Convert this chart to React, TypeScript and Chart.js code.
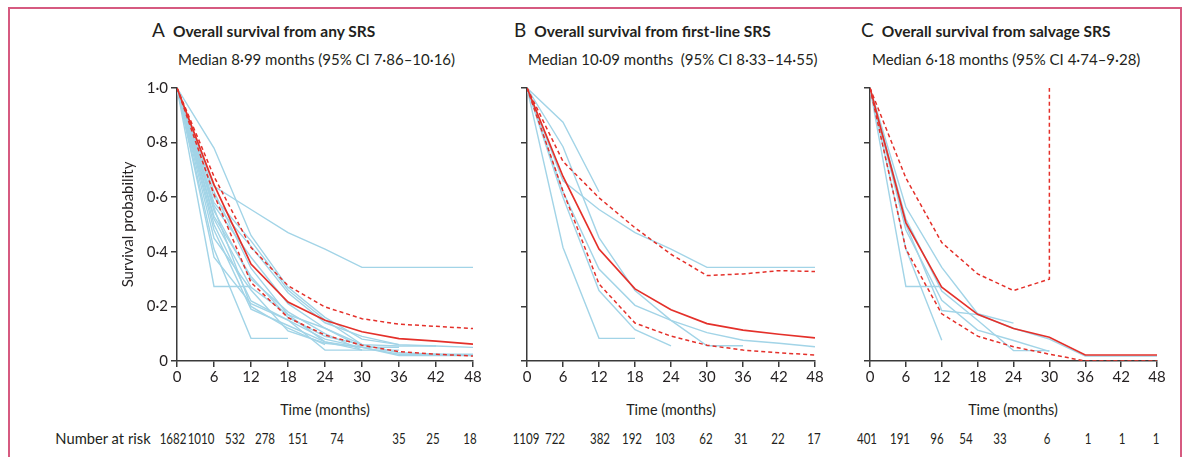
import React, { useEffect, useRef } from 'react';
import { Chart, registerables } from 'chart.js';
Chart.register(...registerables);

const FONT = 'Lato, "Noto Sans", sans-serif';
const TEXT = '#231f20';
const RED = '#e4302a';
const BLUE = '#a2d4e7';
const AXIS = '#3a3a3a';

// time points (months)
const months = [0, 6, 12, 18, 24, 30, 36, 42, 48];
const yTickLabels = ['0', '0·2', '0·4', '0·6', '0·8', '1·0'];

// Panel A – any SRS
const aMedian = [1, 0.646, 0.355, 0.216, 0.149, 0.107, 0.082, 0.073, 0.062];
const aUpper = [1, 0.676, 0.416, 0.276, 0.198, 0.155, 0.135, 0.127, 0.119];
const aLower = [1, 0.61, 0.288, 0.159, 0.095, 0.058, 0.034, 0.025, 0.018];
const aSites = [
  [1, 0.64, 0.555, 0.47, 0.41, 0.343, 0.343, 0.343, 0.343],
  [1, 0.78, 0.46, 0.27, 0.16, 0.08, 0.06, 0.055, 0.05],
  [1, 0.273, 0.273],
  [1, 0.41, 0.083, 0.083],
  [1, 0.6, 0.44, 0.26, 0.15, 0.06, 0.055, 0.055],
  [1, 0.57, 0.38, 0.21, 0.12, 0.05, 0.05],
  [1, 0.55, 0.3, 0.18, 0.1, 0.04, 0.04],
  [1, 0.52, 0.27, 0.17, 0.07, 0.04],
  [1, 0.5, 0.22, 0.15, 0.04, 0.04],
  [1, 0.48, 0.19, 0.13, 0.07, 0.05, 0.025, 0.025, 0.025],
  [1, 0.62, 0.34, 0.17, 0.12, 0.06, 0.03, 0.025, 0.02],
  [1, 0.45, 0.26, 0.11, 0.065, 0.05, 0.02, 0.02, 0.02],
  [1, 0.58, 0.42, 0.25, 0.14, 0.09, 0.06],
  [1, 0.53, 0.31, 0.16, 0.09, 0.06],
  [1, 0.56, 0.2, 0.12, 0.06],
  [1, 0.38, 0.21, 0.15, 0.08, 0.05, 0.05],
];
const aAtRisk = ['1682', '1010', '532', '278', '151', '74', '35', '25', '18'];

// Panel B – first-line SRS
const bMedian = [1, 0.676, 0.41, 0.264, 0.188, 0.137, 0.113, 0.098, 0.085];
const bUpper = [1, 0.731, 0.598, 0.488, 0.391, 0.313, 0.319, 0.331, 0.328];
const bLower = [1, 0.622, 0.282, 0.139, 0.091, 0.058, 0.04, 0.03, 0.022];
const bSites = [
  [1, 0.875, 0.62],
  [1, 0.785, 0.452, 0.258, 0.149, 0.056, 0.056],
  [1, 0.66, 0.555, 0.47, 0.41, 0.343, 0.343, 0.343, 0.343],
  [1, 0.416, 0.083, 0.083],
  [1, 0.62, 0.337, 0.204, 0.149, 0.104, 0.076, 0.065, 0.052],
  [1, 0.6, 0.258, 0.115, 0.055],
];
const bAtRisk = ['1109', '722', '382', '192', '103', '62', '31', '22', '17'];

// Panel C – salvage SRS
const cMedian = [1, 0.507, 0.27, 0.171, 0.119, 0.087, 0.022, 0.022, 0.022];
const cUpperTimes = [0, 6, 12, 18, 24, 30, 30];
const cUpper = [1, 0.67, 0.434, 0.319, 0.258, 0.3, 1.0];
const cLower = [1, 0.41, 0.173, 0.091, 0.052, 0.025, 0, 0, 0];
const cSites = [
  [1, 0.564, 0.343, 0.173, 0.139],
  [1, 0.273, 0.273],
  [1, 0.41, 0.076],
  [1, 0.52, 0.256, 0.149, 0.038, 0.038],
  [1, 0.48, 0.222, 0.113, 0.075, 0.035],
  [1, 0.5, 0.185, 0.17, 0.12, 0.08, 0.018, 0.018, 0.018],
];
const cAtRisk = ['401', '191', '96', '54', '33', '6', '1', '1', '1'];

const toPoints = (ys: (number | null)[], ts: number[] = months) =>
  ys.map((y, i) => ({ x: ts[i], y })).filter((p) => p.y !== null && p.y !== undefined);

type PanelProps = {
  left: number;
  axisLeft: number;
  axisRight: number;
  showYLabels: boolean;
  median: number[];
  upper: number[];
  upperTimes?: number[];
  lower: number[];
  sites: number[][];
};

const TOP = 76;
const AREA_TOP = 86;
const AREA_BOTTOM = 361;
const HEIGHT = 320;

function Panel(p: PanelProps) {
  const ref = useRef<HTMLCanvasElement>(null);
  const width = p.axisRight + 17 - p.left;
  useEffect(() => {
    if (!ref.current) return;
    const datasets: any[] = [
      { data: toPoints(p.median), borderColor: RED, borderWidth: 1.7 },
      { data: toPoints(p.upper, p.upperTimes || months), borderColor: RED, borderWidth: 1.5, borderDash: [4, 3] },
      { data: toPoints(p.lower), borderColor: RED, borderWidth: 1.5, borderDash: [4, 3] },
      ...p.sites.map((s) => ({ data: toPoints(s), borderColor: BLUE, borderWidth: 1.4 })),
    ];
    const chart = new Chart(ref.current, {
      type: 'line',
      data: { datasets },
      options: {
        animation: false,
        responsive: false,
        maintainAspectRatio: false,
        parsing: false,
        layout: { padding: { top: AREA_TOP - TOP, right: 17, left: 0, bottom: 0 } },
        elements: { point: { radius: 0 }, line: { tension: 0, fill: false } },
        plugins: { legend: { display: false }, tooltip: { enabled: false }, title: { display: false } },
        scales: {
          x: {
            type: 'linear',
            min: 0,
            max: 48,
            afterFit: (s: any) => { s.height = TOP + HEIGHT - AREA_BOTTOM; },
            ticks: { stepSize: 6, color: TEXT, font: { family: FONT, size: 15 }, padding: 1, maxRotation: 0 },
            grid: { drawOnChartArea: false, drawTicks: true, tickLength: 6, color: AXIS, lineWidth: 1.5 },
            border: { display: true, color: AXIS, width: 1.5 },
          },
          y: {
            type: 'linear',
            min: 0,
            max: 1,
            afterFit: (s: any) => { s.width = p.axisLeft - p.left; },
            ticks: {
              stepSize: 0.2,
              color: TEXT,
              font: { family: FONT, size: 15 },
              padding: 3,
              callback: (v: any) => (p.showYLabels ? yTickLabels[Math.round(Number(v) * 5)] : ''),
            },
            title: {
              display: p.showYLabels,
              text: 'Survival probability',
              color: TEXT,
              font: { family: FONT, size: 15 },
              padding: { top: 19, bottom: 0 },
            },
            grid: { drawOnChartArea: false, drawTicks: true, tickLength: 6, color: AXIS, lineWidth: 1.5 },
            border: { display: true, color: AXIS, width: 1.5 },
          },
        },
      } as any,
    });
    return () => chart.destroy();
  }, []);
  return (
    <canvas
      ref={ref}
      width={width}
      height={HEIGHT}
      style={{ position: 'absolute', left: p.left, top: TOP, width, height: HEIGHT }}
    />
  );
}

const abs = (x: number, y: number, extra: React.CSSProperties = {}): React.CSSProperties => ({
  position: 'absolute',
  left: x,
  top: y,
  whiteSpace: 'nowrap',
  fontFamily: FONT,
  color: TEXT,
  lineHeight: 1,
  ...extra,
});

function Title({ x, y, letter, text }: { x: number; y: number; letter: string; text: string }) {
  return (
    <div style={abs(x, y, { fontSize: 15.5, fontWeight: 700 })}>
      <span style={{ fontSize: 19, fontWeight: 400, marginRight: 8 }}>{letter}</span>
      {text}
    </div>
  );
}

const centered = (cx: number, cy: number, text: string, size = 14, key?: any, sx = 1) => (
  <div key={key} style={abs(cx, cy, { fontSize: size, transform: `translate(-50%, -50%) scaleX(${sx})` })}>
    {text}
  </div>
);

const aRiskX = [173, 201, 235, 265, 298, 337, 399, 433, 470];
const bRiskX = [526, 555, 600, 632, 665, 706, 741, 778, 814];
const cRiskX = [867, 900, 937, 966, 1000, 1047, 1088, 1122, 1156];

export default function App() {
  return (
    <div style={{ position: 'absolute', left: 0, top: 0, width: 1184, height: 457, overflow: 'hidden', background: '#fff' }}>
      <div
        style={{
          position: 'absolute',
          left: 8,
          top: 7,
          width: 1174,
          height: 480,
          boxSizing: 'border-box',
          border: '2px solid #d65a80',
        }}
      />
      <Title x={152} y={20} letter="A" text="Overall survival from any SRS" />
      <Title x={514} y={20} letter="B" text="Overall survival from first-line SRS" />
      <Title x={861} y={20} letter="C" text="Overall survival from salvage SRS" />
      <div style={abs(178, 52, { fontSize: 15 })}>Median 8·99 months (95% CI 7·86–10·16)</div>
      <div style={abs(528, 52, { fontSize: 15 })}>Median 10·09 months&nbsp; (95% CI 8·33–14·55)</div>
      <div style={abs(872, 52, { fontSize: 15 })}>Median 6·18 months (95% CI 4·74–9·28)</div>

      <Panel left={100} axisLeft={177} axisRight={473} showYLabels median={aMedian} upper={aUpper} lower={aLower} sites={aSites} />
      <Panel left={512} axisLeft={527} axisRight={815} showYLabels={false} median={bMedian} upper={bUpper} lower={bLower} sites={bSites} />
      <Panel
        left={855}
        axisLeft={870}
        axisRight={1157}
        showYLabels={false}
        median={cMedian}
        upper={cUpper}
        upperTimes={cUpperTimes}
        lower={cLower}
        sites={cSites}
      />

      {centered(325, 409, 'Time (months)', 16, 'ta', 0.9)}
      {centered(671, 409, 'Time (months)', 16, 'tb', 0.9)}
      {centered(1013, 409, 'Time (months)', 16, 'tc', 0.9)}

      {centered(103, 438, 'Number at risk', 16, 'nr', 0.92)}
      {aAtRisk.map((t, i) => centered(aRiskX[i], 438, t, 16, 'a' + i, 0.72))}
      {bAtRisk.map((t, i) => centered(bRiskX[i], 438, t, 16, 'b' + i, 0.72))}
      {cAtRisk.map((t, i) => centered(cRiskX[i], 438, t, 16, 'c' + i, 0.72))}
    </div>
  );
}
